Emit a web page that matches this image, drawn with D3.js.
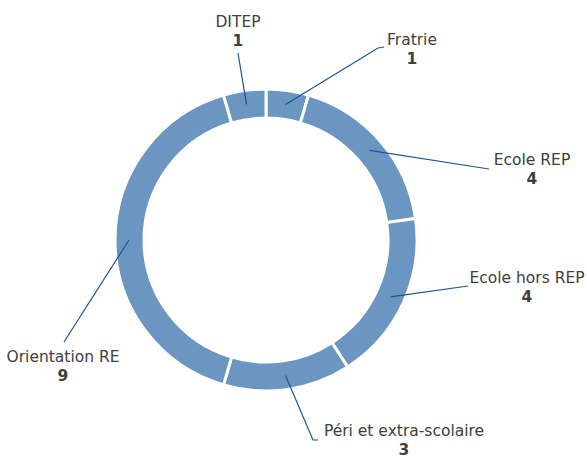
<!DOCTYPE html>
<html>
<head>
<meta charset="utf-8">
<script src="https://cdn.jsdelivr.net/npm/d3@7"></script>
<style>
  body { margin: 0; background: #fff; }
  text { font-family: "Century Gothic", "DejaVu Sans", sans-serif; fill: #404040; }
</style>
</head>
<body>
<div id="chart"></div>
<script>
// data, clockwise from 12 o'clock
const categories = ["Fratrie", "Ecole REP", "Ecole hors REP", "Péri et extra-scolaire", "Orientation RE", "DITEP"];
const values = [1, 4, 4, 3, 9, 1];

// layout
const WIDTH = 587, HEIGHT = 459;
const CX = 266, CY = 240;
const R_OUT = 151, R_IN = 122, R_LEADER = 137;
const FILL = "#6a96c1";
const LEADER = "#1a5494";
const FONT_SIZE = "15.5px";
const LINE_GAP = 19;

// where each label sits (centre x, baseline of name) and the points its leader goes through
const labelPos = [
  { x: 412, y: 45, end: [[378, 48], [384, 47]] },
  { x: 532, y: 165, end: [[489, 169]] },
  { x: 527, y: 283, end: [[468, 286]] },
  { x: 404, y: 436, end: [[313, 440], [318, 440]] },
  { x: 63, y: 362, end: [[64, 342]] },
  { x: 238, y: 27, end: [[238, 53]] }
];

const data = categories.map((c, i) => ({ name: c, value: values[i] }));

const svg = d3.select("#chart").append("svg")
  .attr("width", WIDTH)
  .attr("height", HEIGHT);

const g = svg.append("g").attr("transform", "translate(" + CX + "," + CY + ")");

const pie = d3.pie().value(d => d.value).sort(null);
const arc = d3.arc().innerRadius(R_IN).outerRadius(R_OUT);
const leaderArc = d3.arc().innerRadius(R_LEADER).outerRadius(R_LEADER);

const arcs = pie(data);

g.selectAll("path.slice")
  .data(arcs)
  .enter().append("path")
  .attr("class", "slice")
  .attr("d", arc)
  .attr("fill", FILL)
  .attr("stroke", "#fff")
  .attr("stroke-width", 3);

// leader lines: from the middle of the ring to the label
const line = d3.line();
svg.selectAll("path.leader")
  .data(arcs)
  .enter().append("path")
  .attr("class", "leader")
  .attr("d", (d, i) => {
    const c = leaderArc.centroid(d);
    return line([[c[0] + CX, c[1] + CY]].concat(labelPos[i].end));
  })
  .attr("fill", "none")
  .attr("stroke", LEADER)
  .attr("stroke-width", 1.2);

// labels
const labels = svg.selectAll("g.label")
  .data(arcs)
  .enter().append("g")
  .attr("class", "label");

labels.append("text")
  .attr("x", (d, i) => labelPos[i].x)
  .attr("y", (d, i) => labelPos[i].y)
  .attr("text-anchor", "middle")
  .style("font-size", FONT_SIZE)
  .text(d => d.data.name);

labels.append("text")
  .attr("x", (d, i) => labelPos[i].x)
  .attr("y", (d, i) => labelPos[i].y + LINE_GAP)
  .attr("text-anchor", "middle")
  .style("font-size", FONT_SIZE)
  .style("font-weight", "bold")
  .text(d => d.data.value);
</script>
</body>
</html>
